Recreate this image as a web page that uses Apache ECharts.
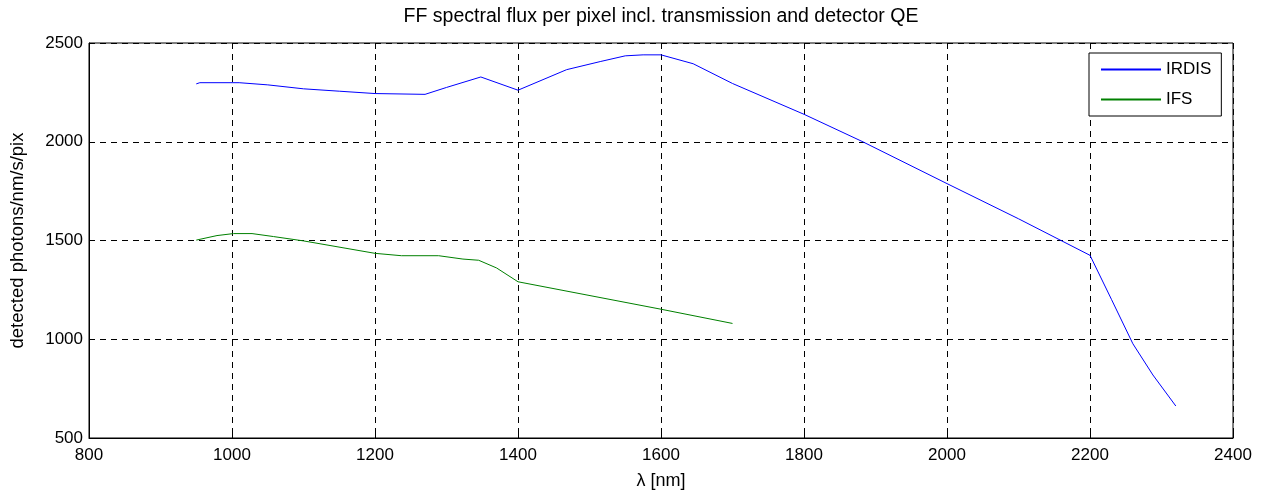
<!DOCTYPE html>
<html>
<head>
<meta charset="utf-8">
<script src="https://cdn.jsdelivr.net/npm/echarts@6/dist/echarts.min.js"></script>
<style>
  html, body { margin: 0; padding: 0; background: #fff; }
  #chart { width: 1267px; height: 495px; }
</style>
</head>
<body>
<div id="chart"></div>
<script>
// wavelength (nm) and detected flux
const irdisWl = [950, 955, 1010, 1050, 1100, 1150, 1200, 1270, 1300, 1348, 1400, 1468, 1515, 1550, 1575, 1600, 1645, 1700, 1800, 1881, 2000, 2100, 2200, 2230, 2260, 2288, 2320]
const irdisFlux = [2293, 2299, 2299, 2288, 2268, 2256, 2244, 2240, 2275, 2328, 2261, 2365, 2406, 2435, 2440, 2440, 2395, 2295, 2139, 2002, 1788, 1610, 1425, 1202, 977, 819, 662]

const ifsWl = [950, 979, 1002, 1028, 1058, 1100, 1200, 1237, 1289, 1323, 1345, 1370, 1400, 1600, 1700]
const ifsFlux = [1502, 1525, 1535, 1535, 1520, 1498, 1435, 1423, 1423, 1406, 1400, 1361, 1291, 1152, 1080]

const xTicks = { min: 800, max: 2400, step: 200 }
const yTicks = { min: 500, max: 2500, step: 500 }

const pairs = (xs, ys) => xs.map((x, i) => [x, ys[i]])

const font = 'Liberation Sans, Arial, sans-serif'
const chart = echarts.init(document.getElementById('chart'))

// matlab style dashed grid
const gridLine = { show: true, lineStyle: { color: '#000', type: [6, 5], width: 1 } }

chart.setOption({
  animation: false,
  title: {
    text: 'FF spectral flux per pixel incl. transmission and detector QE',
    left: 656,
    top: 2,
    textAlign: 'center',
    textStyle: { fontFamily: font, fontSize: 19.5, fontWeight: 'normal', color: '#000' }
  },
  grid: {
    left: 89, right: 34, top: 43, bottom: 53,
    show: true, borderColor: '#000', borderWidth: 1, backgroundColor: '#fff'
  },
  legend: {
    orient: 'vertical',
    left: 1089,
    top: 53,
    padding: [8, 10, 8, 12],
    itemGap: 13,
    itemWidth: 60,
    itemHeight: 2,
    icon: 'rect',
    borderColor: '#000',
    borderWidth: 1,
    backgroundColor: '#fff',
    textStyle: { fontFamily: font, fontSize: 17, color: '#000' },
    data: ['IRDIS', 'IFS']
  },
  xAxis: {
    type: 'value',
    min: xTicks.min, max: xTicks.max, interval: xTicks.step,
    name: 'λ [nm]',
    nameLocation: 'middle',
    nameGap: 34,
    nameTextStyle: { fontFamily: font, fontSize: 18, color: '#000' },
    axisLine: { lineStyle: { color: '#000' } },
    axisTick: { inside: true, length: 5, lineStyle: { color: '#000' } },
    axisLabel: { fontFamily: font, fontSize: 17, color: '#000', margin: 9, formatter: v => String(v) },
    splitLine: gridLine
  },
  yAxis: {
    type: 'value',
    min: yTicks.min, max: yTicks.max, interval: yTicks.step,
    name: 'detected photons/nm/s/pix',
    nameLocation: 'middle',
    nameGap: 62,
    nameTextStyle: { fontFamily: font, fontSize: 18.5, color: '#000' },
    axisLine: { lineStyle: { color: '#000' } },
    axisTick: { inside: true, length: 5, lineStyle: { color: '#000' } },
    axisLabel: { fontFamily: font, fontSize: 17, color: '#000', margin: 6, formatter: v => String(v) },
    splitLine: gridLine
  },
  series: [
    {
      name: 'IRDIS',
      type: 'line',
      data: pairs(irdisWl, irdisFlux),
      showSymbol: false,
      symbol: 'none',
      color: '#0000ff',
      lineStyle: { color: '#0000ff', width: 1 },
      z: 3
    },
    {
      name: 'IFS',
      type: 'line',
      data: pairs(ifsWl, ifsFlux),
      showSymbol: false,
      symbol: 'none',
      color: '#008000',
      lineStyle: { color: '#008000', width: 1 },
      z: 3
    }
  ]
})
</script>
</body>
</html>
